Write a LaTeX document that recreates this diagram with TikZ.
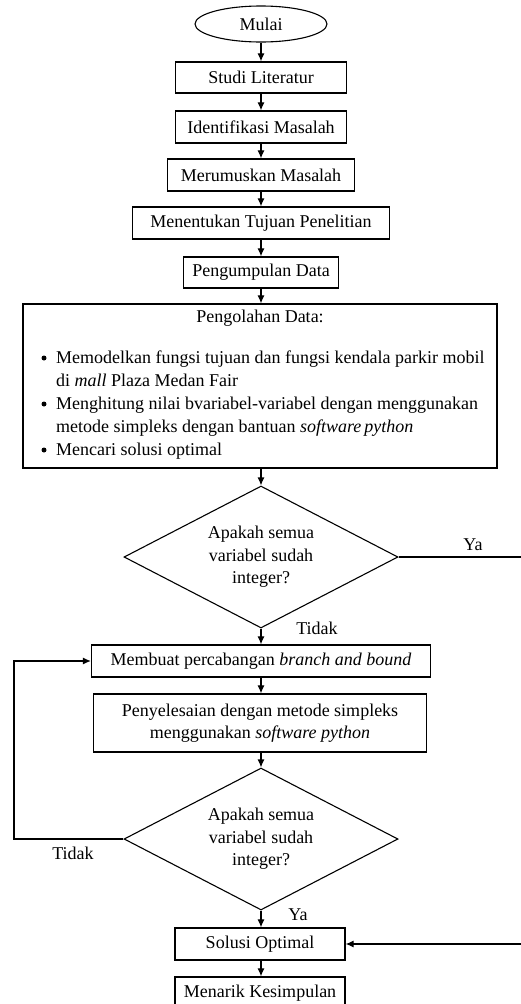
\documentclass[tikz,border=0pt]{standalone}
\usepackage{fontspec}
\setmainfont{Liberation Serif}
\usetikzlibrary{shapes.geometric,arrows.meta}
\begin{document}
\begin{tikzpicture}[x=1pt,y=-1pt,
  font=\fontsize{18}{22.5}\selectfont,
  box/.style={draw, line width=1.3pt, rectangle, inner sep=0pt, align=center},
  flow/.style={draw, line width=1.1pt, -{Latex[length=8pt,width=7pt]}},
  link/.style={draw, line width=1.1pt},
  dec/.style={draw, line width=1.1pt, diamond, aspect=1.93, inner sep=1pt,
              minimum width=274pt, minimum height=142pt, align=center},
  lbl/.style={inner sep=0pt},
  dot/.style={circle, fill, inner sep=0pt, minimum size=5pt}
]
\useasboundingbox (0,0) rectangle (521,1004);

\node[ellipse, draw, line width=1.1pt, minimum width=132pt, minimum height=36pt, inner sep=0pt] (start) at (261,24) {Mulai};
\node[box, minimum width=171pt, minimum height=31pt] (studi) at (261,77.5) {Studi Literatur};
\node[box, minimum width=171pt, minimum height=32pt] (iden) at (261,127) {Identifikasi Masalah};
\node[box, minimum width=187pt, minimum height=32pt] (rumus) at (261,175) {Merumuskan Masalah};
\node[box, minimum width=257pt, minimum height=32pt] (tujuan) at (261,223) {Menentukan Tujuan Penelitian};
\node[box, minimum width=155pt, minimum height=31pt] (kumpul) at (261,272.5) {Pengumpulan Data};

\node[box, minimum width=474pt, minimum height=164pt] (olah) at (260,386) {};
\node[lbl] (olahT) at (260,318) {Pengolahan Data:};
\node[dot] (b1) at (44,358) {};
\node[dot] (b2) at (44,404) {};
\node[dot] (b3) at (44,450) {};
\node[lbl, anchor=base west] (l1) at (56,363) {Memodelkan fungsi tujuan dan fungsi kendala parkir mobil};
\node[lbl, anchor=base west] (l2) at (56,386) {di \textit{mall} Plaza Medan Fair};
\node[lbl, anchor=base west] (l3) at (56,409) {Menghitung nilai bvariabel-variabel dengan menggunakan};
\node[lbl, anchor=base west] (l4) at (56,432) {metode simpleks dengan bantuan \textit{software\,python}};
\node[lbl, anchor=base west] (l5) at (56,455) {Mencari solusi optimal};

\node[dec] (d1) at (261,557) {Apakah semua\\variabel sudah\\integer?};
\node[box, minimum width=339pt, minimum height=32pt] (cabang) at (261,661) {Membuat percabangan \textit{branch and bound}};
\node[box, minimum width=333pt, minimum height=58pt] (simpleks) at (260,723) {Penyelesaian dengan metode simpleks\\menggunakan \textit{software python}};
\node[dec] (d2) at (261,839) {Apakah semua\\variabel sudah\\integer?};
\node[box, minimum width=170pt, minimum height=32pt] (solusi) at (260,944) {Solusi Optimal};
\node[box, minimum width=170pt, minimum height=40pt, text depth=12pt] (tarik) at (260,997) {Menarik Kesimpulan};

\node[lbl] (ya1) at (473,545) {Ya};
\node[lbl] (tidak1) at (317,628) {Tidak};
\node[lbl] (tidak2) at (73,853) {Tidak};
\node[lbl] (ya2) at (298,915) {Ya};

\coordinate (yR1) at (524,557);
\coordinate (yR2) at (524,944);
\coordinate (nL1) at (14,839);
\coordinate (nL2) at (14,661);

\draw[flow] (start.south) -- (start.south |- studi.north);
\draw[flow] (studi.south) -- (studi.south |- iden.north);
\draw[flow] (iden.south) -- (iden.south |- rumus.north);
\draw[flow] (rumus.south) -- (rumus.south |- tujuan.north);
\draw[flow] (tujuan.south) -- (tujuan.south |- kumpul.north);
\draw[flow] (kumpul.south) -- (kumpul.south |- olah.north);
\draw[flow] (kumpul.south |- olah.south) -- (d1.north);
\draw[flow] (d1.south) -- (d1.south |- cabang.north);
\draw[flow] (cabang.south) -- (cabang.south |- simpleks.north);
\draw[flow] (cabang.south |- simpleks.south) -- (d2.north);
\draw[flow] (d2.south) -- (d2.south |- solusi.north);
\draw[flow] (d2.south |- solusi.south) -- (d2.south |- tarik.north);

\draw[flow] (d1.east) -- (yR1) -- (yR2) -- (solusi.east);
\draw[flow] (d2.west) -- (nL1) -- (nL2) -- (cabang.west);
\end{tikzpicture}
\end{document}
